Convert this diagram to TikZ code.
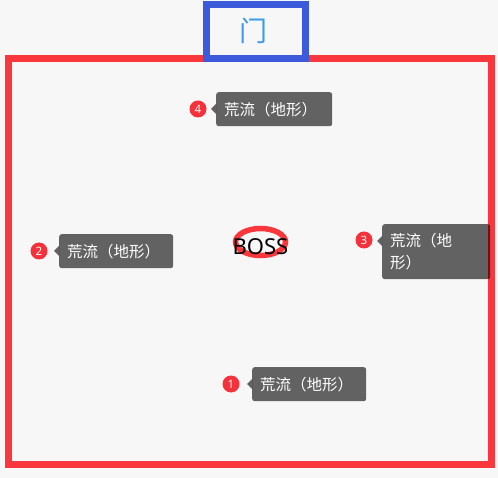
\documentclass[tikz,border=0pt]{standalone}
\usepackage{fontspec}
\newfontfamily\cjk{Noto Sans CJK SC}
\newfontfamily\latn{Noto Sans}
\definecolor{bgc}{RGB}{247,247,247}
\definecolor{wallred}{RGB}{250,55,60}
\definecolor{doorblue}{RGB}{59,91,219}
\definecolor{doortext}{RGB}{61,155,233}
\definecolor{badgered}{RGB}{245,50,60}
\begin{document}
\begin{tikzpicture}[x=1pt,y=-1pt,
  tag/.style={fill=black, fill opacity=0.6, text opacity=1, text=white, rounded corners=2.5pt,
    anchor=north west, inner xsep=8pt, inner ysep=2pt, align=left,
    font=\cjk\fontsize{15.5}{22}\selectfont},
  badge/.style={circle, fill=badgered, text=white, inner sep=0pt, minimum size=17pt,
    font=\latn\fontsize{11.5}{11.5}\selectfont},
  ptr/.style={fill=black, fill opacity=0.6}]
\useasboundingbox (0,0) rectangle (498,478);
\fill[bgc] (0,0) rectangle (498,478);
% room walls
\draw[wallred, line width=7pt] (8.5,58.5) rectangle (491.5,464.5);
% door
\draw[doorblue, line width=7pt, fill=bgc] (206.5,4.5) rectangle (305.5,58.5);
\node[text=doortext, font=\cjk\fontsize{28}{28}\selectfont] (door) at (253,31) {门};
% boss
\draw[wallred, line width=5.5pt] (260.5,242) ellipse [x radius=25, y radius=13.5];
\node[font=\latn\fontsize{22}{22}\selectfont, text=black, inner sep=0pt] (boss) at (260.5,247) {BOSS};
% tags
\node[tag, text width=100pt, minimum height=34pt] (t4) at (216,92) {荒流（地形）};
\node[tag, text width=98pt, minimum height=34pt] (t2) at (59,234) {荒流（地形）};
\node[tag, text width=92pt, minimum height=55pt] (t3) at (382,224) {荒流（地\\形）};
\node[tag, text width=98pt, minimum height=34pt] (t1) at (252,367) {荒流（地形）};
\foreach \t in {t1,t2,t3,t4}{
  \fill[ptr] ([yshift=-12pt]\t.north west) -- ([xshift=-5pt,yshift=-17pt]\t.north west) -- ([yshift=-22pt]\t.north west) -- cycle;
}
\node[badge] (b4) at (198,109) {4};
\node[badge] (b2) at (39,251) {2};
\node[badge] (b3) at (364,240) {3};
\node[badge] (b1) at (231,384) {1};
\end{tikzpicture}
\end{document}
